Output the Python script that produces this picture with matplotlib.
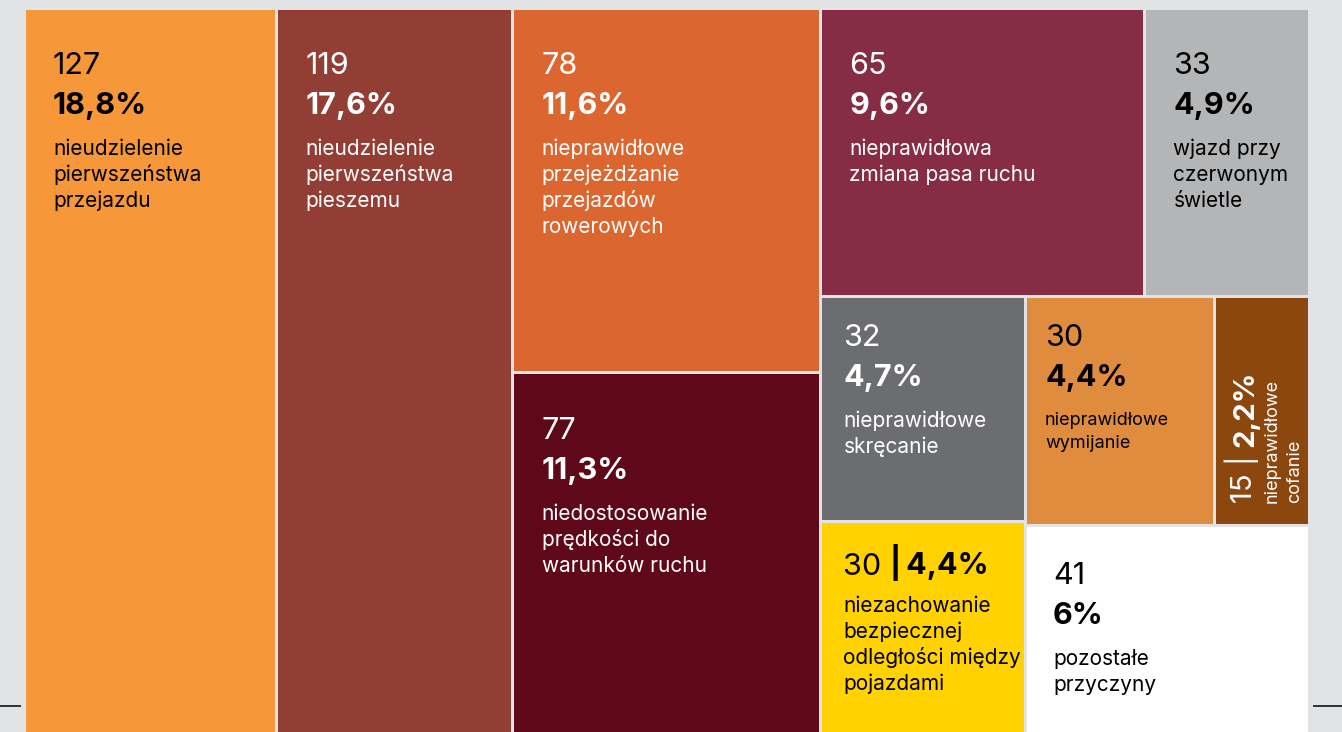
import matplotlib
matplotlib.use("Agg")
import matplotlib.pyplot as plt
from matplotlib.patches import Rectangle

# Dane: przyczyny wypadków
counts = [127, 119, 78, 77, 65, 33, 32, 30, 15, 30, 41]
percents = ["18,8%", "17,6%", "11,6%", "11,3%", "9,6%", "4,9%",
            "4,7%", "4,4%", "2,2%", "4,4%", "6%"]
labels = [
    "nieudzielenie\npierwszeństwa\nprzejazdu",
    "nieudzielenie\npierwszeństwa\npieszemu",
    "nieprawidłowe\nprzejeżdżanie\nprzejazdów\nrowerowych",
    "niedostosowanie\nprędkości do\nwarunków ruchu",
    "nieprawidłowa\nzmiana pasa ruchu",
    "wjazd przy\nczerwonym\nświetle",
    "nieprawidłowe\nskręcanie",
    "nieprawidłowe\nwymijanie",
    "nieprawidłowe\ncofanie",
    "niezachowanie\nbezpiecznej\nodległości między\npojazdami",
    "pozostałe\nprzyczyny",
]
colors = ["#f6973a", "#933e35", "#dc662f", "#5f0819", "#862d45", "#b4b5b7",
          "#6c6d70", "#e08c3e", "#8c470f", "#ffd200", "#ffffff"]
text_colors = ["black", "white", "white", "white", "white", "black",
               "white", "black", "white", "black", "black"]

# struktura treemapy (h = podział w poziomie, v = w pionie)
tree = ("h", [0, 1, ("v", [2, 3]),
              ("v", [("h", [4, 5]),
                     ("h", [("v", [6, 9]),
                            ("v", [("h", [7, 8]), 10])])])])

BG = "#e2e3e5"
FONT = "Inter"
FS_NUM = 22
FS_DESC = 15
FS_SMALL = 13


def node_sum(node):
    if isinstance(node, int):
        return counts[node]
    return sum(node_sum(c) for c in node[1])


def layout(node, x, y, w, h, out):
    if isinstance(node, int):
        out[node] = (x, y, w, h)
        return
    kind, children = node
    total = node_sum(node)
    pos = 0.0
    for c in children:
        frac = node_sum(c) / total
        if kind == "h":
            layout(c, x + pos * w, y, w * frac, h, out)
        else:
            layout(c, x, y + pos * h, w, h * frac, out)
        pos += frac


rects = {}
layout(tree, 24, 8, 1285, 725, rects)

fig = plt.figure(figsize=(13.42, 7.32), dpi=100)
fig.patch.set_facecolor(BG)
ax = fig.add_axes([0, 0, 1, 1])
ax.set_xlim(0, 1342)
ax.set_ylim(732, 0)
ax.axis("off")

# linia strony w tle
ax.axhline(706, color="black", lw=1.1, zorder=0)
ax.add_patch(Rectangle((21, 0), 1292, 732, facecolor=BG, edgecolor="none", zorder=1))

gap = 1.5
big = [0, 1, 2, 3, 4, 5]
for i in range(len(counts)):
    x, y, w, h = rects[i]
    ax.add_patch(Rectangle((x + gap, y + gap), w - 2 * gap, h - 2 * gap,
                           facecolor=colors[i], edgecolor="none", zorder=2))
    tc = text_colors[i]
    if i == 8:
        # wąskie pole – tekst obrócony
        bx = x + 38
        by = y + h - 22
        t = ax.text(bx, by, f"{counts[i]} | ", rotation=90, rotation_mode="anchor",
                    ha="left", va="baseline", fontsize=21, color=tc,
                    family=FONT, zorder=3)
        ax.annotate(percents[i], xy=(1, 1), xycoords=t, rotation=90,
                    rotation_mode="anchor", ha="left", va="bottom",
                    fontsize=21, color=tc, family=FONT, fontweight="bold",
                    zorder=3)
        for k, line in enumerate(labels[i].split("\n")):
            ax.text(bx + 24 + 23 * k, by, line, rotation=90, rotation_mode="anchor",
                    ha="left", va="baseline", fontsize=FS_SMALL, color=tc,
                    family=FONT, zorder=3)
        continue
    if i in big:
        px, n_off, p_off, d_off, fs_d, lg = 29, 66, 106, 147, FS_DESC, 26
    elif i == 10:
        px, n_off, p_off, d_off, fs_d, lg = 28, 59, 99, 140, FS_DESC, 26
    elif i == 7:
        px, n_off, p_off, d_off, fs_d, lg = 20, 49, 89, 128, FS_SMALL, 23
    else:
        px, n_off, p_off, d_off, fs_d, lg = 23, 49, 89, 130, FS_DESC, 26
    tx = x + px
    if i == 9:
        t = ax.text(tx, y + 53, f"{counts[i]} ", ha="left", va="baseline",
                    fontsize=FS_NUM, color=tc, family=FONT, zorder=3)
        ax.annotate("|\u2009" + percents[i], xy=(1, 0), xycoords=t, ha="left",
                    va="bottom", fontsize=FS_NUM, color=tc, family=FONT,
                    fontweight="bold", zorder=3)
        d_off = 90
    else:
        ax.text(tx, y + n_off, str(counts[i]), ha="left", va="baseline",
                fontsize=FS_NUM, color=tc, family=FONT, zorder=3)
        ax.text(tx, y + p_off, percents[i], ha="left", va="baseline",
                fontsize=FS_NUM, color=tc, family=FONT, fontweight="bold", zorder=3)
    for k, line in enumerate(labels[i].split("\n")):
        ax.text(tx, y + d_off + lg * k, line, ha="left", va="baseline",
                fontsize=fs_d, color=tc, family=FONT, zorder=3)

fig.savefig("out.png", dpi=100, facecolor=BG)
